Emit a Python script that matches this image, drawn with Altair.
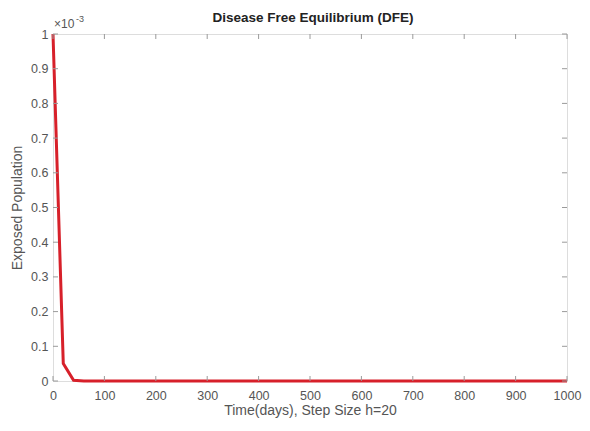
import altair as alt
import pandas as pd

# Data (E in units of 1e-3), step size h=20
t_vals = list(range(0, 1001, 20))
e_vals = [1.0, 0.05, 0.002] + [0.0] * (len(t_vals) - 3)

x_ticks = list(range(0, 1001, 100))
y_ticks = [round(i * 0.1, 1) for i in range(11)]

W, H = 514, 347
TXT = "#555555"
BOX = "#9a9a9a"
FONT = "Liberation Sans"

df = pd.DataFrame({"t": t_vals, "E": e_vals})
dfx = pd.DataFrame({"t": x_ticks})
dfy = pd.DataFrame({"E": y_ticks})

xs = alt.Scale(domain=[0, 1000], nice=False, zero=False)
ys = alt.Scale(domain=[0, 1], nice=False, zero=False)

xaxis = alt.Axis(values=x_ticks, format="d", title="Time(days), Step Size h=20",
                 grid=False, domain=False, ticks=False, labelPadding=8,
                 labelFlush=False, labelOverlap=False,
                 labelFontSize=12.5, labelColor=TXT, labelFont=FONT,
                 titleFontSize=14, titleColor=TXT, titleFont=FONT,
                 titleFontWeight="normal", titlePadding=2)
yaxis = alt.Axis(values=y_ticks, format=".1~f", title="Exposed Population",
                 grid=False, domain=False, ticks=False, labelPadding=5,
                 labelFlush=False, labelOverlap=False,
                 labelFontSize=12.5, labelColor=TXT, labelFont=FONT,
                 titleFontSize=14, titleColor=TXT, titleFont=FONT,
                 titleFontWeight="normal", titlePadding=6)

line = alt.Chart(df).mark_line(color="#d7202a", strokeWidth=3).encode(
    x=alt.X("t:Q", scale=xs, axis=xaxis),
    y=alt.Y("E:Q", scale=ys, axis=yaxis),
)

tk = dict(color=BOX, strokeWidth=1)
bt = alt.Chart(dfx).mark_rule(**tk).encode(
    x=alt.X("t:Q", scale=xs, axis=xaxis), y=alt.value(H), y2=alt.value(H - 5))
tt = alt.Chart(dfx).mark_rule(**tk).encode(
    x=alt.X("t:Q", scale=xs, axis=xaxis), y=alt.value(0), y2=alt.value(5))
lt = alt.Chart(dfy).mark_rule(**tk).encode(
    y=alt.Y("E:Q", scale=ys, axis=yaxis), x=alt.value(0), x2=alt.value(5))
rt = alt.Chart(dfy).mark_rule(**tk).encode(
    y=alt.Y("E:Q", scale=ys, axis=yaxis), x=alt.value(W - 5), x2=alt.value(W))

title = alt.Chart(pd.DataFrame({"s": ["Disease Free Equilibrium (DFE)"]})).mark_text(
    align="center", baseline="middle", fontSize=13.5, fontWeight="bold",
    color="#222222", font=FONT
).encode(text="s:N", x=alt.value(W / 2 + 3), y=alt.value(-16))
mult = alt.Chart(pd.DataFrame({"s": ["×10"]})).mark_text(
    align="left", baseline="bottom", fontSize=12, color=TXT, font=FONT
).encode(text="s:N", x=alt.value(1), y=alt.value(-3))
expo = alt.Chart(pd.DataFrame({"s": ["-3"]})).mark_text(
    align="left", baseline="bottom", fontSize=9, color=TXT, font=FONT
).encode(text="s:N", x=alt.value(23), y=alt.value(-10))

chart = alt.layer(line, bt, tt, lt, rt, title, mult, expo).properties(
    width=W, height=H,
    autosize=alt.AutoSizeParams(type="none"),
    padding={"left": 53, "top": 34, "right": 23, "bottom": 50},
).configure_view(stroke=BOX, strokeWidth=1).configure(background="white")

chart.save("out.html", embed_options={"renderer": "svg", "actions": False})
